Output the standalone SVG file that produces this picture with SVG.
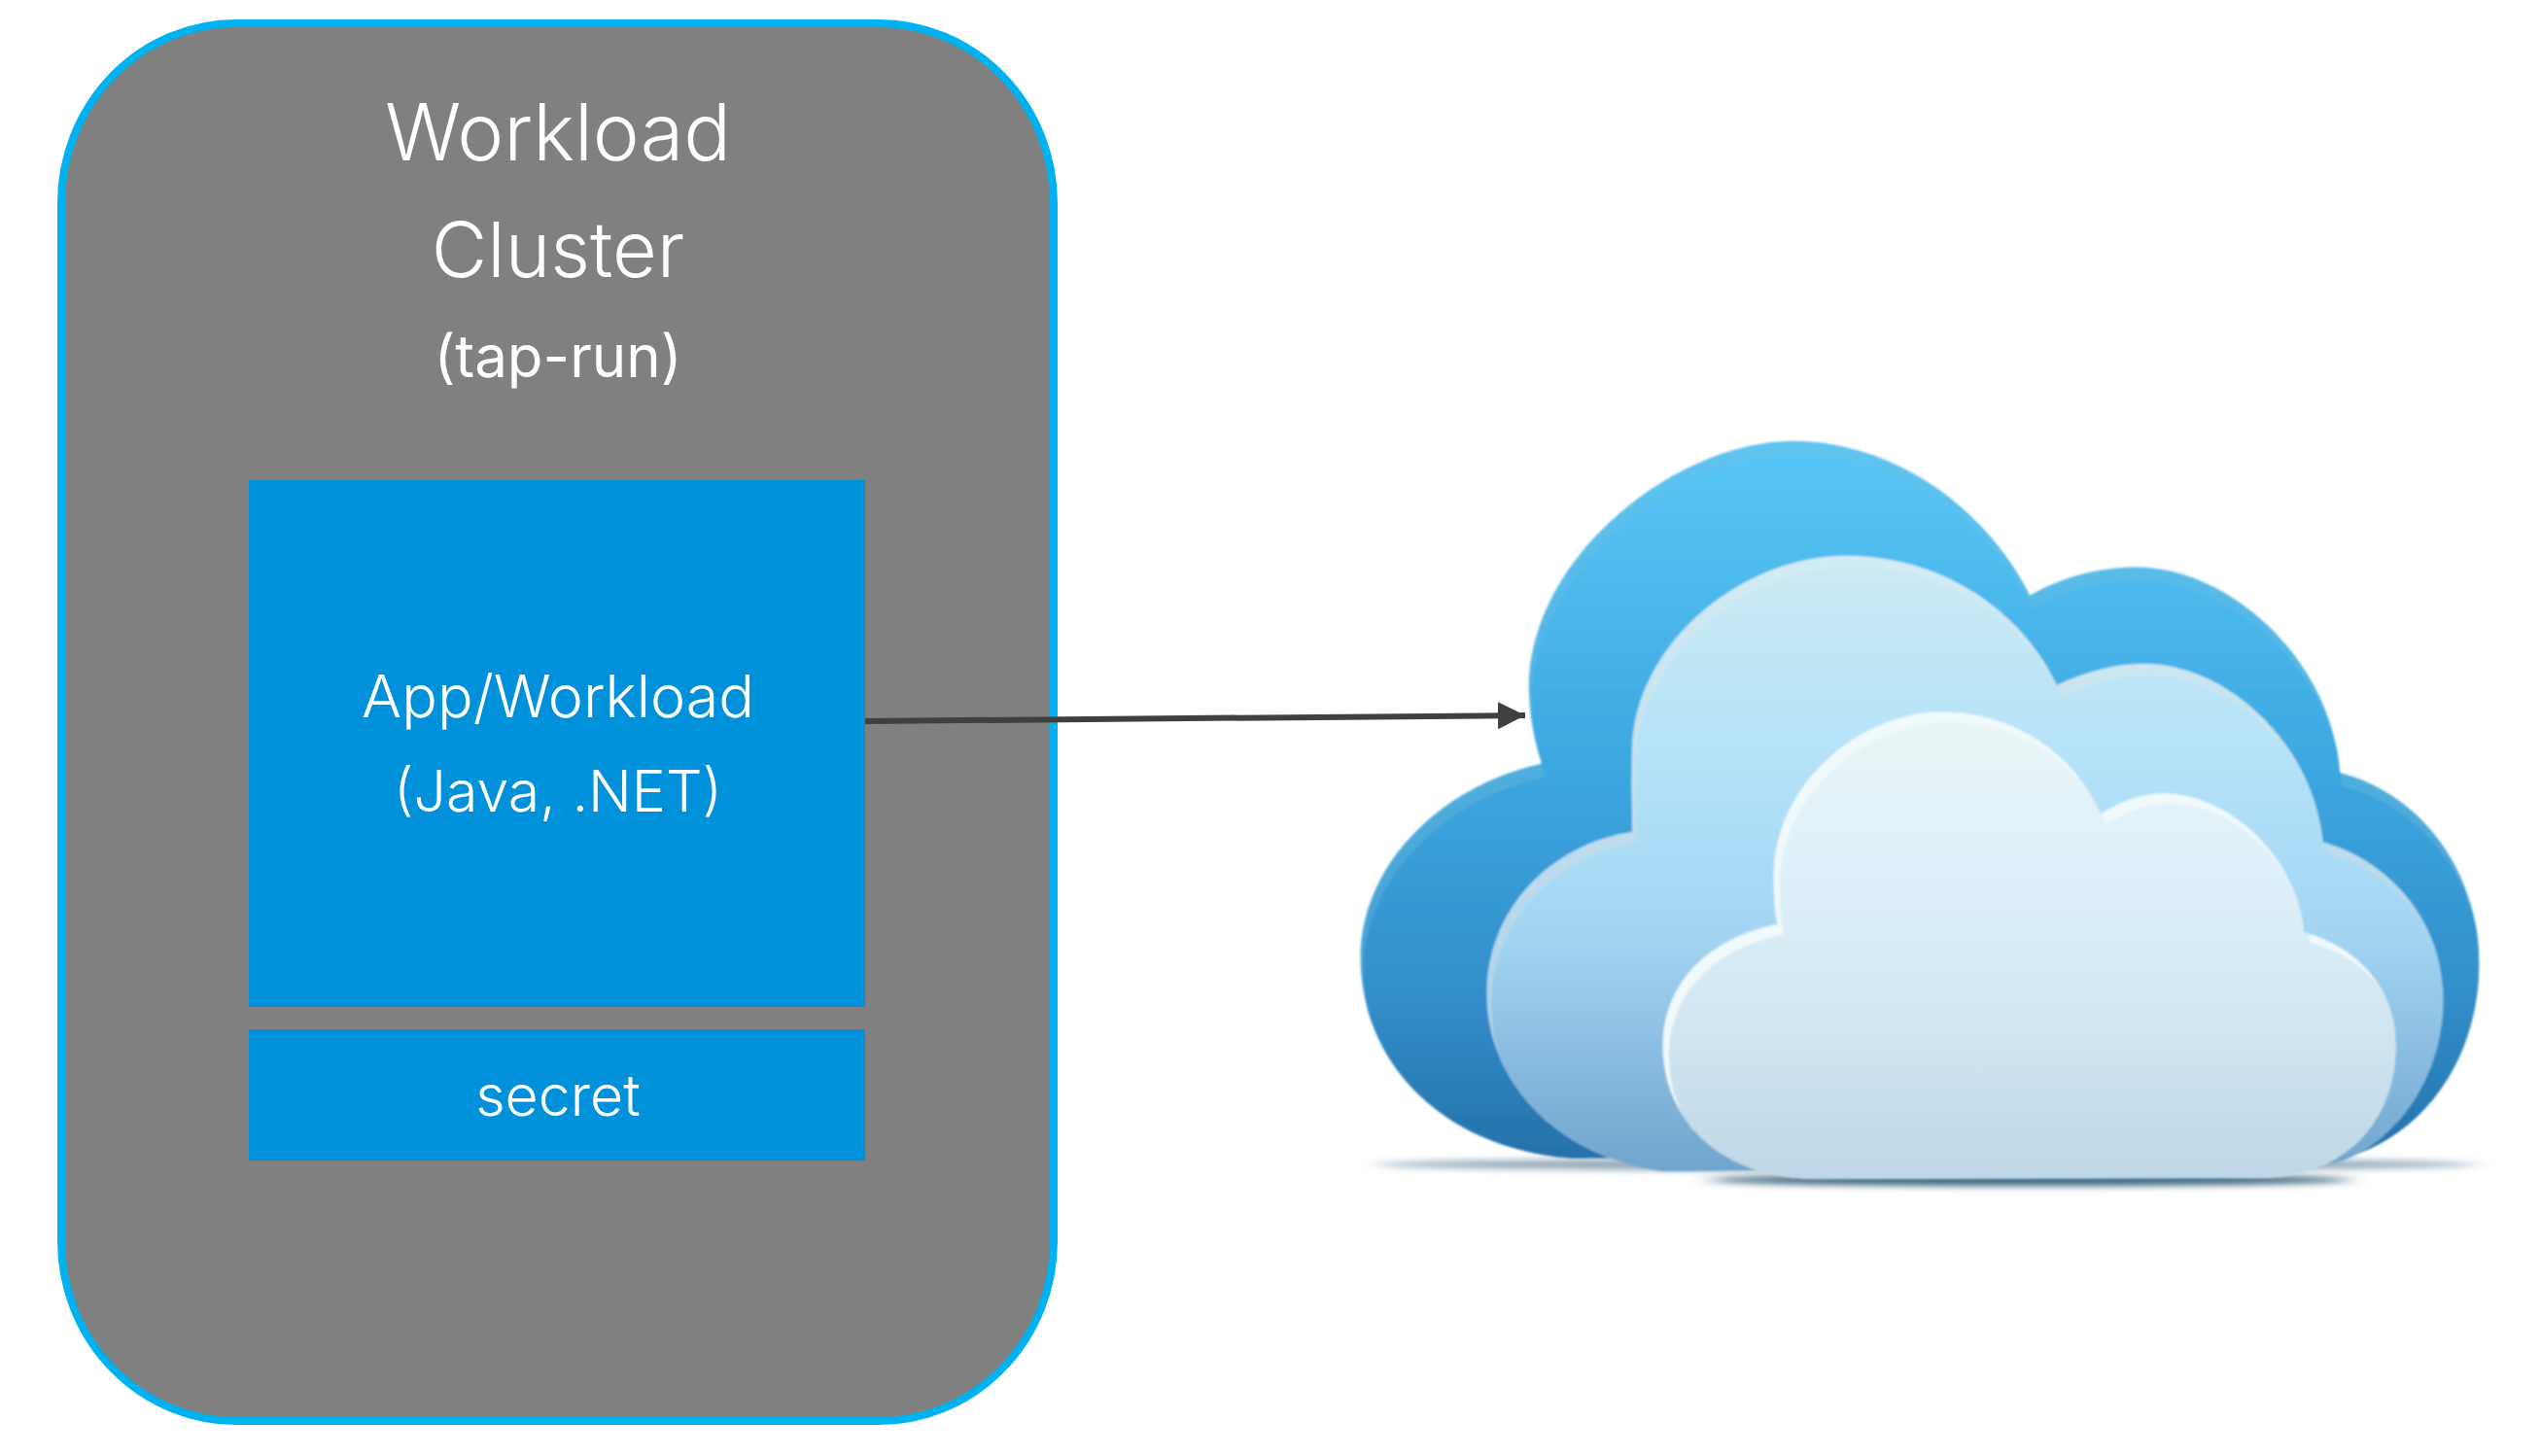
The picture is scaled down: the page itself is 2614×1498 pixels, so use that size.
<svg xmlns="http://www.w3.org/2000/svg" width="2614" height="1498" viewBox="0 0 2614 1498">
<style>
text{font-family:"Inter","Liberation Sans",sans-serif;fill:#fff;text-anchor:middle;font-weight:300}
.box{fill:#0091DA}
</style>
<defs>
<marker id="head" markerUnits="userSpaceOnUse" markerWidth="30" markerHeight="30" refX="28" refY="14" orient="auto"><path d="M0 0L28 14L0 28Z" fill="#404040"/></marker>
<path id="pb" d="M300 1440C130 1420 25 1250 25 1050C25 880 120 720 262 672C250 620 245 570 245 520C248 265 440 45 590 45C720 45 840 170 900 345C940 310 990 290 1040 290C1160 290 1295 470 1305 690C1410 730 1487 880 1487 1060C1487 1240 1420 1380 1330 1430Z"/>
<path id="pm" d="M420 1465C290 1440 190 1300 190 1120C190 960 270 830 380 805C380 760 378 700 380 640C385 435 525 268 660 268C785 268 890 375 935 520C970 495 1010 478 1050 478C1150 478 1268 620 1283 825C1370 860 1440 980 1440 1130C1440 1280 1380 1410 1300 1450Z"/>
<path id="pf" d="M620 1480C500 1480 420 1370 420 1220C420 1100 480 1010 570 985C565 950 565 920 565 880C570 705 680 572 785 572C875 572 955 645 992 770C1020 745 1045 730 1075 730C1160 730 1250 855 1258 1000C1330 1030 1378 1110 1378 1220C1378 1370 1310 1478 1200 1478Z"/>
<clipPath id="cb"><use href="#pb"/></clipPath>
<clipPath id="cm"><use href="#pm"/></clipPath>
<clipPath id="cf"><use href="#pf"/></clipPath>
<linearGradient id="gb" gradientUnits="userSpaceOnUse" x1="0" y1="45" x2="0" y2="1440"><stop offset="0" stop-color="#58C6F5"/><stop offset=".45" stop-color="#3CA6E0"/><stop offset=".75" stop-color="#338FCB"/><stop offset="1" stop-color="#246FA6"/></linearGradient>
<linearGradient id="gbr" gradientUnits="userSpaceOnUse" x1="0" y1="45" x2="0" y2="1440"><stop offset="0" stop-color="#5FC4F0"/><stop offset="1" stop-color="#3F94C8"/></linearGradient>
<linearGradient id="gm" gradientUnits="userSpaceOnUse" x1="0" y1="268" x2="0" y2="1460"><stop offset="0" stop-color="#CBE9F3"/><stop offset=".3" stop-color="#B5E3F9"/><stop offset=".6" stop-color="#A3D5F3"/><stop offset="1" stop-color="#6FA3CC"/></linearGradient>
<linearGradient id="gmr" gradientUnits="userSpaceOnUse" x1="0" y1="268" x2="0" y2="1460"><stop offset="0" stop-color="#D3ECF5"/><stop offset="1" stop-color="#A6CBE3"/></linearGradient>
<linearGradient id="gf" gradientUnits="userSpaceOnUse" x1="0" y1="572" x2="0" y2="1480"><stop offset="0" stop-color="#E8F5F5"/><stop offset=".3" stop-color="#DFF1FB"/><stop offset=".65" stop-color="#D1E6F2"/><stop offset="1" stop-color="#BDD6E5"/></linearGradient>
<filter id="sh" x="-10%" y="-300%" width="120%" height="700%"><feGaussianBlur stdDeviation="14 7"/></filter>
<filter id="soft" x="-5%" y="-5%" width="110%" height="110%"><feGaussianBlur stdDeviation="1.5 2"/></filter>
</defs>

<g id="workload-cluster">
<rect x="63" y="24" width="1021" height="1438" rx="180" ry="185" fill="#808080" stroke="#00B2F0" stroke-width="8"/>
<text x="574" y="165" font-size="81">Workload</text>
<text x="574" y="285" font-size="79">Cluster</text>
<text x="574" y="388" font-size="60" style="font-weight:400">(tap-run)</text>
</g>
<g id="app-workload">
<rect class="box" x="256" y="494" width="634" height="542"/>
<text x="574" y="738" font-size="61">App/Workload</text>
<text x="574" y="835" font-size="59">(Java, .NET)</text>
</g>
<g id="secret">
<rect class="box" x="256" y="1059" width="634" height="135"/>
<text x="574" y="1148" font-size="59">secret</text>
</g>

<g id="cloud" transform="translate(1380 430) scale(.787 .529)">
<ellipse cx="765" cy="1452" rx="720" ry="12" fill="#8FA6B7" filter="url(#sh)"/>
<ellipse cx="900" cy="1482" rx="420" ry="12" fill="#3C6680" filter="url(#sh)"/>
<g filter="url(#soft)">
<use href="#pb" fill="url(#gbr)"/>
<g clip-path="url(#cb)"><use href="#pb" x="4" y="26" fill="url(#gb)"/></g>
<use href="#pm" fill="url(#gmr)"/>
<g clip-path="url(#cm)"><use href="#pm" x="6" y="22" fill="url(#gm)"/></g>
<use href="#pf" fill="#F0F9FB"/>
<g clip-path="url(#cf)"><use href="#pf" x="8" y="20" fill="url(#gf)"/></g>
</g>
</g>

<g id="connectors">
<path d="M890 742L1569 736" fill="none" stroke="#404040" stroke-width="6" marker-end="url(#head)"/>
</g>
</svg>
